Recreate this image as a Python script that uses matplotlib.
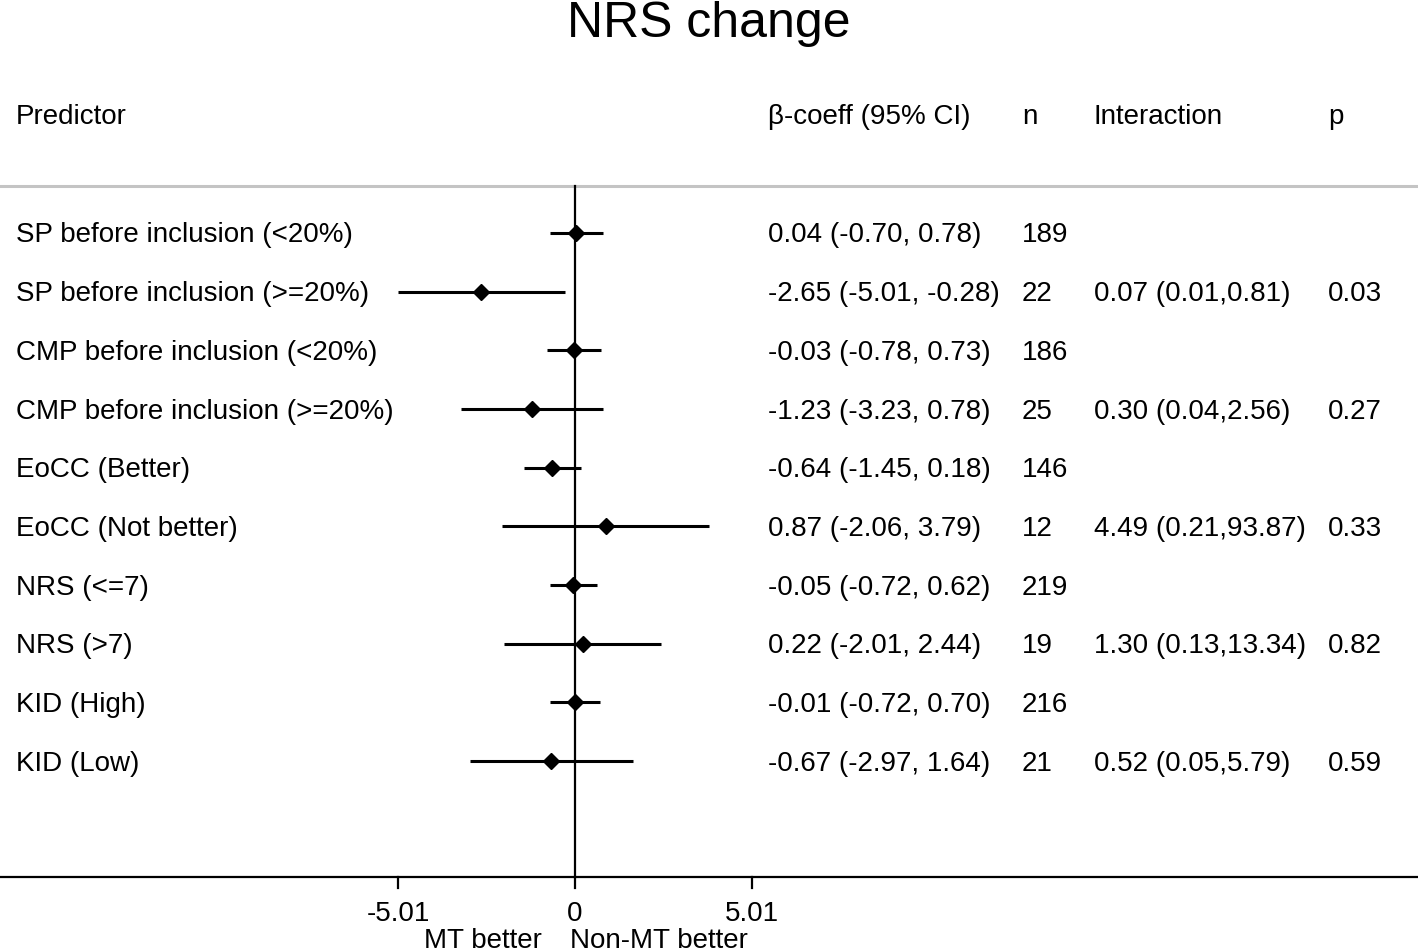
import matplotlib
matplotlib.use("Agg")
import matplotlib.pyplot as plt
import matplotlib.transforms as mtransforms

predictors = ["SP before inclusion (<20%)", "SP before inclusion (>=20%)",
              "CMP before inclusion (<20%)", "CMP before inclusion (>=20%)",
              "EoCC (Better)", "EoCC (Not better)", "NRS (<=7)", "NRS (>7)",
              "KID (High)", "KID (Low)"]
beta = [0.04, -2.65, -0.03, -1.23, -0.64, 0.87, -0.05, 0.22, -0.01, -0.67]
lower = [-0.70, -5.01, -0.78, -3.23, -1.45, -2.06, -0.72, -2.01, -0.72, -2.97]
upper = [0.78, -0.28, 0.73, 0.78, 0.18, 3.79, 0.62, 2.44, 0.70, 1.64]
n = [189, 22, 186, 25, 146, 12, 219, 19, 216, 21]
interaction = ["", "0.07 (0.01,0.81)", "", "0.30 (0.04,2.56)", "",
               "4.49 (0.21,93.87)", "", "1.30 (0.13,13.34)", "", "0.52 (0.05,5.79)"]
pvals = ["", "0.03", "", "0.27", "", "0.33", "", "0.82", "", "0.59"]
headers = ["Predictor", "β-coeff (95% CI)", "n", "Interaction", "p"]
xticks = [-5.01, 0, 5.01]
xticklabels = ["-5.01", "0", "5.01"]

plt.rcParams['font.family'] = ['Liberation Sans', 'DejaVu Sans']

W, H = 1418, 953
fig = plt.figure(figsize=(W / 100, H / 100), dpi=100)
ax = fig.add_axes([0, 0, 1, 1])

px_per_unit = 35.33
x0_px = 575.0
ax.set_xlim((0 - x0_px) / px_per_unit, (W - x0_px) / px_per_unit)
row0_px = 234.0
row_h = 58.67
ax.set_ylim((H - row0_px) / row_h, (0 - row0_px) / row_h)


def py(p):
    """figure pixel y -> row units"""
    return (p - row0_px) / row_h


for s in ax.spines.values():
    s.set_visible(False)
ax.set_yticks([])
ax.set_xticks([])

rows = list(range(len(predictors)))
axis_y = py(878)
hline_y = py(187)
FS = 20

# zero line
ax.plot([0, 0], [hline_y, axis_y], color='black', lw=1.6, zorder=2)
# header separator
ax.axhline(hline_y, color='#c4c4c4', lw=2.2, zorder=1)
# bottom axis
ax.axhline(axis_y, color='black', lw=1.6, zorder=1)
for t, lab in zip(xticks, xticklabels):
    ax.plot([t, t], [axis_y, py(889)], color='black', lw=1.6)
    ax.text(t, py(921), lab, ha='center', va='baseline', fontsize=FS)

ax.text(-0.93, py(948), "MT better", ha='right', va='baseline', fontsize=FS)
ax.text(-0.14, py(948), "Non-MT better", ha='left', va='baseline', fontsize=FS)

# CIs and points
for r, lo, hi in zip(rows, lower, upper):
    ax.plot([lo, hi], [r, r], color='black', lw=2.2, solid_capstyle='butt', zorder=3)
ax.plot(beta, rows, linestyle='none', marker='D', color='black', markersize=8.5, zorder=4)

# text columns (x in figure pixels -> axes fraction)
trans = mtransforms.blended_transform_factory(ax.transAxes, ax.transData)
col_x = [16, 768, 1022, 1094, 1328]
base_off = 8.5 / row_h
for cx, h in zip(col_x, headers):
    ax.text(cx / W, py(124), h, transform=trans, ha='left', va='baseline', fontsize=FS)
for r in rows:
    vals = [predictors[r], f"{beta[r]:.2f} ({lower[r]:.2f}, {upper[r]:.2f})",
            str(n[r]), interaction[r], pvals[r]]
    for cx, v in zip(col_x, vals):
        ax.text(cx / W, r + base_off, v, transform=trans, ha='left', va='baseline',
                fontsize=FS)

ax.text(0.5, py(37), "NRS change", transform=trans,
        ha='center', va='baseline', fontsize=36)

fig.savefig("out.png", dpi=100)
